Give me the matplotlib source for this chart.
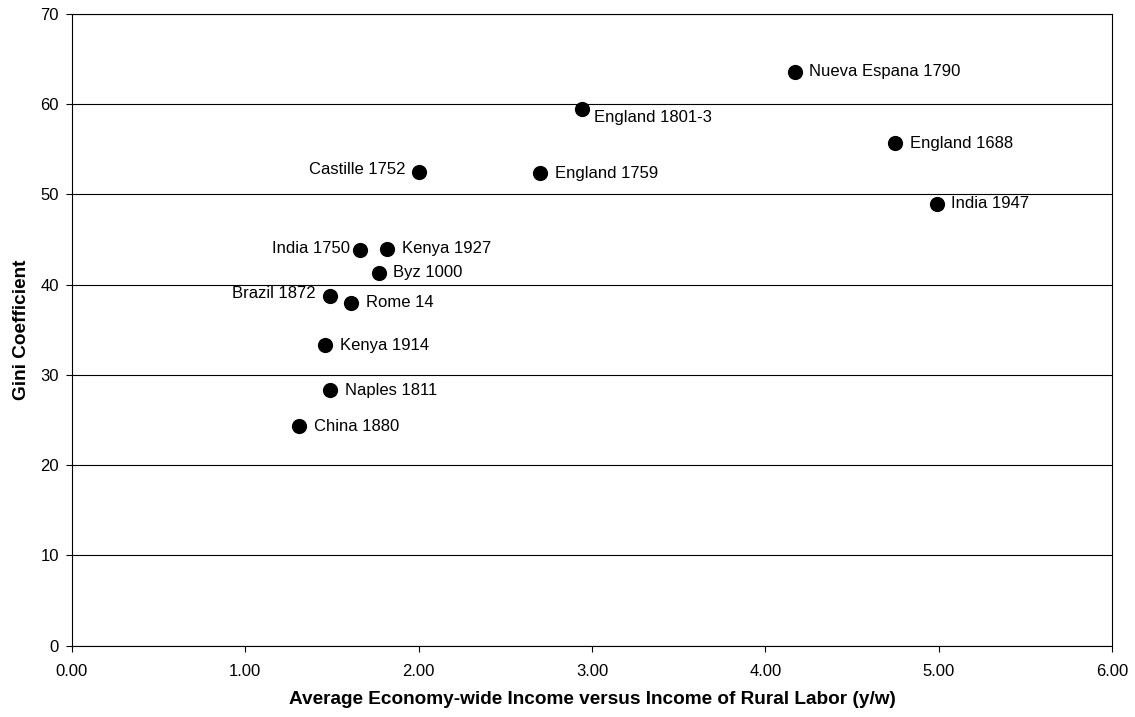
import matplotlib.pyplot as plt

plt.rcParams['font.family'] = ['Liberation Sans', 'DejaVu Sans']

# income ratio y/w vs Gini coefficient
labels = ['Nueva Espana 1790', 'England 1801-3', 'England 1688', 'Castille 1752',
          'England 1759', 'India 1947', 'India 1750', 'Kenya 1927', 'Byz 1000',
          'Brazil 1872', 'Rome 14', 'Kenya 1914', 'Naples 1811', 'China 1880']
ratio = [4.17, 2.94, 4.75, 2.00, 2.70, 4.99, 1.66, 1.82, 1.77, 1.49, 1.61, 1.46, 1.49, 1.31]
gini = [63.6, 59.5, 55.7, 52.5, 52.35, 49.0, 43.9, 44.0, 41.3, 38.8, 38.0, 33.3, 28.3, 24.3]

# where each label sits relative to its dot (points)
offsets = {'England 1801-3': (9, -6), 'Castille 1752': (-9.5, 1.7),
           'India 1750': (-7, 1), 'Brazil 1872': (-10.5, 1.7)}

fig = plt.figure(figsize=(11.35, 7.17), dpi=100)
ax = fig.add_axes([0.0634, 0.0994, 0.9163, 0.8811])

ax.scatter(ratio, gini, s=120, color='black', zorder=3, linewidths=0)

for name, xv, yv in zip(labels, ratio, gini):
    dx, dy = offsets.get(name, (10.5, 0))
    ha = 'right' if dx < 0 else 'left'
    ax.annotate(name, (xv, yv), xytext=(dx, dy), textcoords='offset points',
                ha=ha, va='center', fontsize=12)

ax.set_xlim(0, 6)
ax.set_ylim(0, 70)
ax.set_xticks(range(0, 7))
ax.set_xticklabels(['%.2f' % v for v in range(0, 7)])
ax.set_yticks(range(0, 71, 10))
ax.yaxis.grid(True, color='black', linewidth=0.8)
ax.set_axisbelow(True)
ax.tick_params(direction='out', length=4, width=0.8, labelsize=12, color='black')
ax.tick_params(axis='x', pad=9)
ax.tick_params(axis='y', pad=5.5)
for sp in ax.spines.values():
    sp.set_linewidth(0.8)
    sp.set_color('black')

ax.set_xlabel('Average Economy-wide Income versus Income of Rural Labor (y/w)',
              fontsize=13.7, fontweight='bold', labelpad=9)
ax.set_ylabel('Gini Coefficient', fontsize=13.7, fontweight='bold', labelpad=7)

fig.savefig('out.png', dpi=100)
